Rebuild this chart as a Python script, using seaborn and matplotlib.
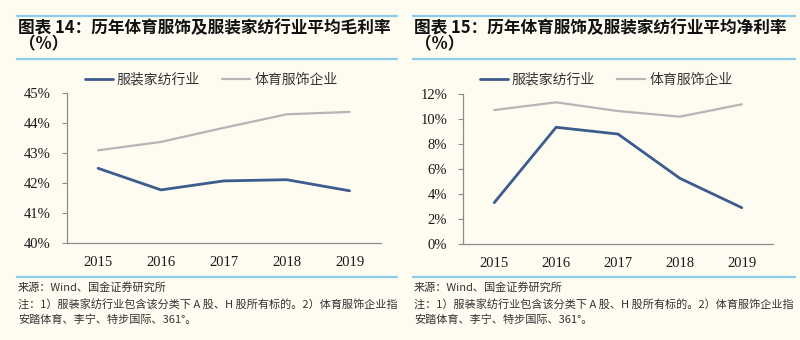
import matplotlib
matplotlib.use("Agg")
import matplotlib.pyplot as plt
import seaborn as sns
import pandas as pd
from matplotlib.lines import Line2D
from matplotlib.ticker import FixedLocator, FuncFormatter

# ---- data -------------------------------------------------------------
years = ["2015", "2016", "2017", "2018", "2019"]
series_names = ["服装家纺行业", "体育服饰企业"]
gross_home_textile = [42.50, 41.78, 42.08, 42.12, 41.75]
gross_sportswear = [43.10, 43.38, 43.85, 44.30, 44.38]
net_home_textile = [3.33, 9.36, 8.82, 5.28, 2.93]
net_sportswear = [10.74, 11.36, 10.66, 10.21, 11.20]

titles = ["图表 14：历年体育服饰及服装家纺行业平均毛利率",
          "图表 15：历年体育服饰及服装家纺行业平均净利率"]
subtitle = "（%）"
source_text = "来源：Wind、国金证券研究所"
note_line1 = "注：1）服装家纺行业包含该分类下 A 股、H 股所有标的。2）体育服饰企业指"
note_line2 = "安踏体育、李宁、特步国际、361°。"

# ---- style ------------------------------------------------------------
BG = "#FEFBF1"
BLUE = "#3D5C8E"
GRAY = "#B5B5B5"
RULE = "#8CCBEA"
AXIS = "#8C8C8C"
CJK = ["Noto Sans CJK SC", "DejaVu Sans"]
SERIF = ["Liberation Serif", "DejaVu Serif"]

sns.set_theme(style="white")
plt.rcParams["font.family"] = CJK
plt.rcParams["axes.unicode_minus"] = False

W, H = 800, 340
fig = plt.figure(figsize=(W / 100, H / 100), dpi=100, facecolor=BG)


def fx(px):
    return px / W


def fy(py):
    return 1 - py / H


def long_frame(a, b):
    return pd.DataFrame({
        "year": years * 2,
        "value": list(a) + list(b),
        "series": [series_names[0]] * len(years) + [series_names[1]] * len(years),
    })


def draw_panel(left_px, right_px, top_px, bottom_px, frame, ylim, ystep):
    ax = fig.add_axes([fx(left_px), fy(bottom_px),
                       fx(right_px - left_px), (bottom_px - top_px) / H])
    ax.set_facecolor(BG)
    sns.lineplot(data=frame, x="year", y="value", hue="series",
                 hue_order=series_names[::-1],
                 palette={series_names[0]: BLUE, series_names[1]: GRAY},
                 ax=ax, legend=False, sort=False)
    for line in ax.get_lines():
        line.set_linewidth(2.0 if line.get_color() == BLUE else 1.6)
        line.set_solid_joinstyle("miter")
    ax.set_xlim(-0.5, len(years) - 0.5)
    ax.set_ylim(*ylim)
    ticks = list(range(int(ylim[0]), int(ylim[1]) + 1, ystep))
    ax.yaxis.set_major_locator(FixedLocator(ticks))
    ax.yaxis.set_major_formatter(FuncFormatter(lambda v, _: f"{v:.0f}%"))
    ax.xaxis.set_minor_locator(FixedLocator([i - 0.5 for i in range(len(years) + 1)]))
    ax.tick_params(axis="x", which="major", length=0, pad=9, labelsize=10.5,
                   labelcolor="#1a1a1a")
    ax.tick_params(axis="x", which="minor", direction="in", length=4,
                   width=0.8, color=AXIS)
    ax.tick_params(axis="y", which="major", direction="out", length=3.5,
                   width=0.8, color=AXIS, pad=8, labelsize=10.5,
                   labelcolor="#1a1a1a", left=True)
    for lab in ax.get_xticklabels() + ax.get_yticklabels():
        lab.set_family(SERIF)
    for side in ("top", "right"):
        ax.spines[side].set_visible(False)
    for side in ("left", "bottom"):
        ax.spines[side].set_color(AXIS)
        ax.spines[side].set_linewidth(0.9)
    ax.set_xlabel("")
    ax.set_ylabel("")
    ax.grid(False)
    return ax


def header_footer(x0, x1, title, legend_x):
    for y in (15.5, 59, 277):
        fig.add_artist(Line2D([fx(x0), fx(x1)], [fy(y), fy(y)],
                              color=RULE, lw=1.6))
    fig.text(fx(x0 + 1), fy(28), title, fontsize=12, fontweight="bold",
             style="italic", color="#111111", va="center", ha="left", family=CJK)
    fig.text(fx(x0 + 2), fy(44.5), subtitle, fontsize=12, fontweight="bold",
             color="#111111", va="center", ha="left", family=CJK)
    handles = [Line2D([], [], color=BLUE, lw=2.0),
               Line2D([], [], color=GRAY, lw=1.6)]
    fig.legend(handles, series_names, loc="center left",
               bbox_to_anchor=(fx(legend_x), fy(80)), ncol=2, frameon=False,
               borderpad=0, borderaxespad=0, handlelength=2.0,
               handletextpad=0.3, columnspacing=1.6,
               prop={"family": CJK, "size": 10}, labelcolor="#333333")
    fig.text(fx(x0 + 1), fy(287), source_text, fontsize=8, color="#333333",
             va="center", ha="left", family=CJK)
    fig.text(fx(x0 + 1), fy(304), note_line1, fontsize=8, color="#333333",
             va="center", ha="left", family=CJK)
    fig.text(fx(x0 + 1), fy(319.5), note_line2, fontsize=8, color="#333333",
             va="center", ha="left", family=CJK)


# gross margin panel
draw_panel(66.7, 381, 93.3, 243.3,
           long_frame(gross_home_textile, gross_sportswear), (40, 45), 1)
header_footer(17, 397, titles[0], 85)

# net margin panel
draw_panel(463.3, 772.7, 94.3, 244.3,
           long_frame(net_home_textile, net_sportswear), (0, 12), 2)
header_footer(413, 795, titles[1], 480)

fig.savefig("out.png", dpi=100, facecolor=BG)
